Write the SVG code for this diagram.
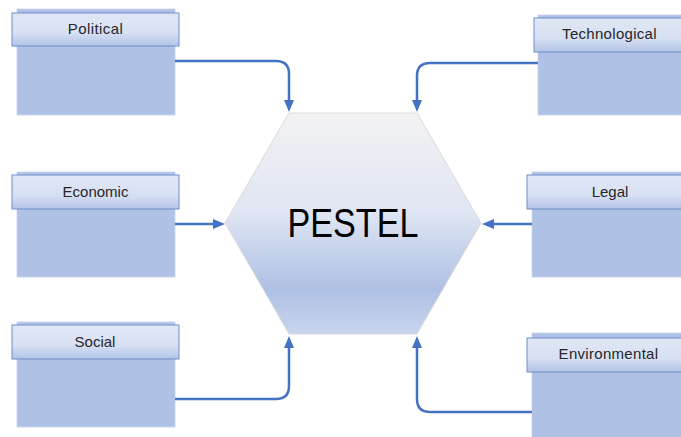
<svg xmlns="http://www.w3.org/2000/svg" width="681" height="437" viewBox="0 0 681 437">
<defs>
<linearGradient id="hexg" x1="0" y1="0" x2="0" y2="1">
<stop offset="0" stop-color="#f2f2f2"/>
<stop offset="0.45" stop-color="#dfe5f3"/>
<stop offset="0.8" stop-color="#aec0e4"/>
<stop offset="1" stop-color="#c9d5ed"/>
</linearGradient>
<linearGradient id="hdrg" x1="0" y1="0" x2="0" y2="1">
<stop offset="0" stop-color="#e1e7f5"/>
<stop offset="0.6" stop-color="#d7e0f3"/>
<stop offset="1" stop-color="#b3c4e7"/>
</linearGradient>
<marker id="ah" viewBox="0 0 12 10" refX="2" refY="5" markerWidth="12" markerHeight="10" markerUnits="userSpaceOnUse" orient="auto">
<polygon points="0,0 12,5 0,10" fill="#4472c4"/>
</marker>
</defs>
<style>
.body{fill:#afc2e5;stroke:#c5d2ec;stroke-width:0.8}
.hdr{fill:url(#hdrg);stroke:#6f8dc9;stroke-width:1}
.lbl{font-family:"Liberation Sans",Arial,sans-serif;font-size:15px;fill:#262626;text-anchor:middle}
.conn{fill:none;stroke:#4472c4;stroke-width:2.5;marker-end:url(#ah)}
</style>
<rect width="681" height="437" fill="#ffffff"/>
<g id="political">
<rect class="body" x="17" y="9" width="158" height="106"/>
<rect class="hdr" x="12" y="13" width="167" height="33"/>
<text class="lbl" x="95.5" y="34" letter-spacing="0.4">Political</text>
</g>
<g id="economic">
<rect class="body" x="17" y="172" width="158" height="105"/>
<rect class="hdr" x="12" y="175" width="167" height="34"/>
<text class="lbl" x="95.5" y="197">Economic</text>
</g>
<g id="social">
<rect class="body" x="17" y="322" width="158" height="105"/>
<rect class="hdr" x="12" y="325" width="167" height="34"/>
<text class="lbl" x="95" y="347">Social</text>
</g>
<g id="technological">
<rect class="body" x="538" y="15" width="150" height="100"/>
<rect class="hdr" x="534" y="18" width="160" height="34"/>
<text class="lbl" x="609.5" y="39" letter-spacing="0.3">Technological</text>
</g>
<g id="legal">
<rect class="body" x="532" y="172" width="156" height="105"/>
<rect class="hdr" x="527" y="175" width="167" height="34"/>
<text class="lbl" x="610" y="197">Legal</text>
</g>
<g id="environmental">
<rect class="body" x="532" y="333" width="156" height="110"/>
<rect class="hdr" x="527" y="338" width="167" height="34"/>
<text class="lbl" x="608.5" y="359" letter-spacing="0.3">Environmental</text>
</g>
<g id="pestel">
<polygon points="289,113 417,113 481,223 417,334 289,334 225,223" fill="url(#hexg)" stroke="#d9d9d9" stroke-width="1"/>
<text x="353" y="237" font-family="'Liberation Sans',Arial,sans-serif" font-size="41" fill="#000000" text-anchor="middle" textLength="131" lengthAdjust="spacingAndGlyphs">PESTEL</text>
</g>
<g id="connectors">
<path class="conn" d="M175,61 H276 Q289,61 289,74 V102"/>
<path class="conn" d="M538,63 H430 Q417,63 417,76 V102"/>
<path class="conn" d="M175,224 H215"/>
<path class="conn" d="M532,224 H492"/>
<path class="conn" d="M175,399 H276 Q289,399 289,386 V346"/>
<path class="conn" d="M532,412 H430 Q417,412 417,399 V346"/>
</g>
</svg>
